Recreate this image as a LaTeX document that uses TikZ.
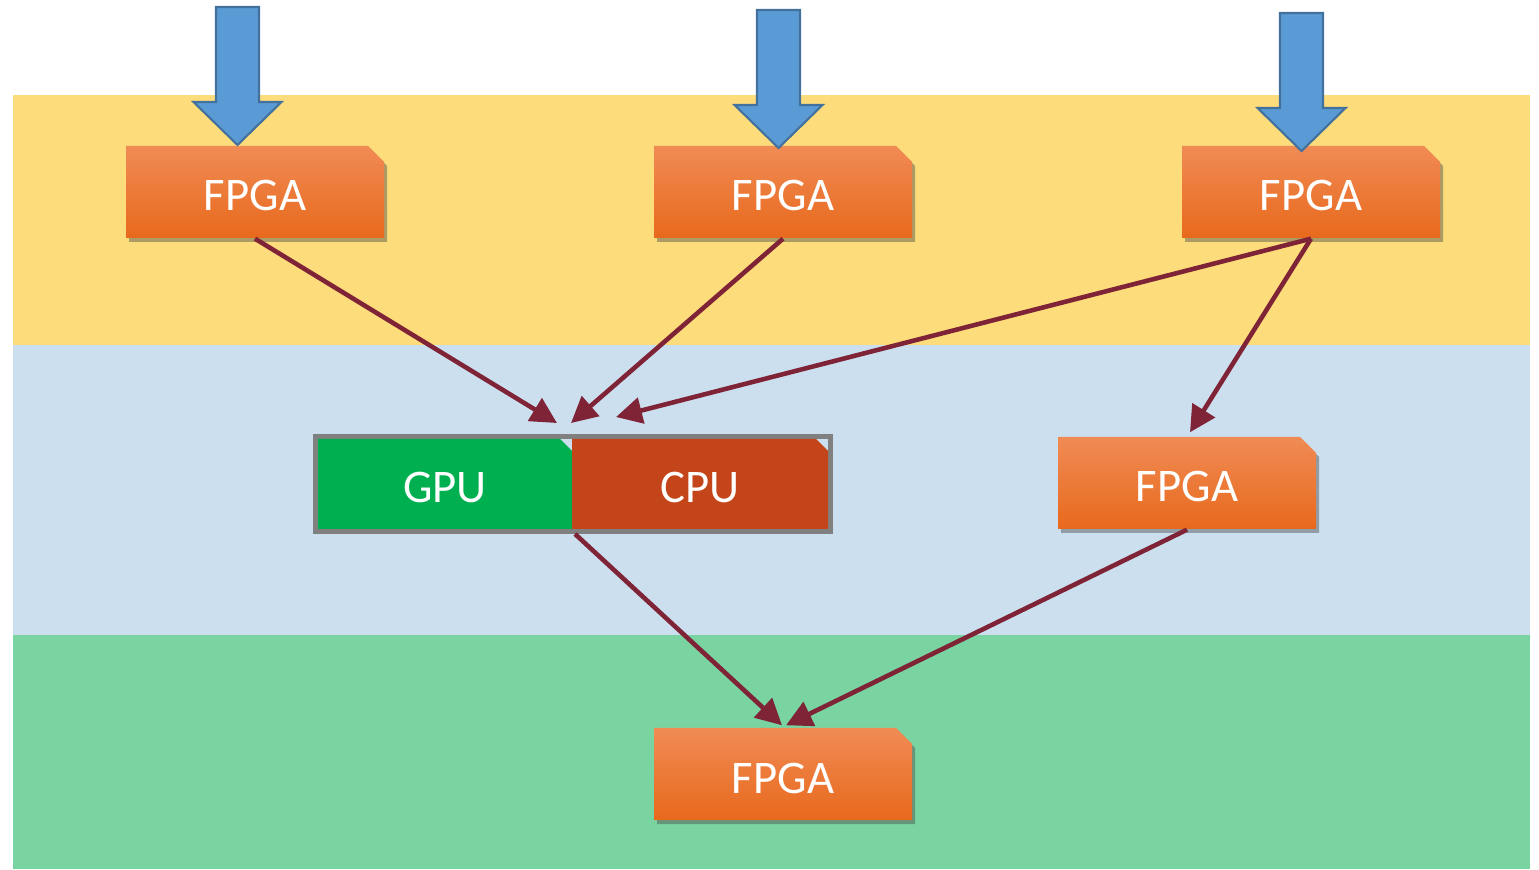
\documentclass[tikz,border=0pt]{standalone}
\usepackage{fontspec}
\setmainfont{Carlito}
\usetikzlibrary{arrows.meta,shapes.misc,shadows}

\definecolor{bandyellow}{HTML}{FDDC7B}
\definecolor{bandblue}{HTML}{CCDFEF}
\definecolor{bandgreen}{HTML}{79D4A2}
\definecolor{linkred}{HTML}{7F2336}
\definecolor{feedblue}{HTML}{5B9BD5}
\definecolor{feededge}{HTML}{41719C}
\definecolor{gpugreen}{HTML}{00B050}
\definecolor{cpured}{HTML}{C5451A}
\definecolor{framegray}{HTML}{808080}
\definecolor{fpgatop}{HTML}{F08B55}
\definecolor{fpgamid}{HTML}{F27C2C}
\definecolor{fpgabot}{HTML}{E8691C}

\tikzset{
  fpga/.style={chamfered rectangle, chamfered rectangle corners=north east,
    chamfered rectangle sep=0.8mm, top color=fpgatop, middle color=fpgamid,
    bottom color=fpgabot, text=white, minimum width=2.58cm, minimum height=0.92cm,
    drop shadow={shadow xshift=0.3mm, shadow yshift=-0.4mm, opacity=0.45, fill=black!70},
    text height=0.38cm, text depth=0cm,
    font=\fontsize{13.3}{16}\selectfont},
  unit/.style={chamfered rectangle, chamfered rectangle corners=north east,
    chamfered rectangle sep=0.6mm, minimum height=0.9cm, inner sep=0pt,
    text height=0.38cm, text depth=0cm,
    text=white, font=\fontsize{13.3}{16}\selectfont},
  link/.style={draw=linkred, line width=1.3pt,
    -{Triangle[length=2.6mm,width=2.6mm]}},
}

\begin{document}
\begin{tikzpicture}
  \useasboundingbox (0,0) rectangle (15.39,8.69);

  % Bands
  \fill[bandyellow] (0.13,5.24) rectangle (15.30,7.74);
  \fill[bandblue] (0.13,2.34) rectangle (15.30,5.24);
  \fill[bandgreen] (0.13,0) rectangle (15.30,2.34);

  % FPGA boxes
  \node[fpga] (fpgaA) at (2.55,6.77) {FPGA};
  \node[fpga] (fpgaB) at (7.83,6.77) {FPGA};
  \node[fpga] (fpgaC) at (13.11,6.77) {FPGA};
  \node[fpga] (fpgaD) at (11.87,3.86) {FPGA};
  \node[fpga] (fpgaE) at (7.83,0.95) {FPGA};

  % GPU + CPU host
  \node[draw=framegray, line width=1.4pt, minimum width=5.15cm, minimum height=0.95cm] (host) at (5.73,3.85) {};
  \node[unit, fill=gpugreen, minimum width=2.54cm] (gpu) at (4.45,3.85) {GPU};
  \node[unit, fill=cpured, minimum width=2.56cm] (cpu) at (7.00,3.85) {CPU};

  % Input arrows
  \foreach \cx/\top in {2.375/8.62, 7.785/8.59, 13.015/8.56}
    \draw[feededge, fill=feedblue, line width=0.6pt]
      (\cx-0.215,\top) -- (\cx+0.215,\top) -- (\cx+0.215,\top-0.95)
      -- (\cx+0.44,\top-0.95) -- (\cx,\top-1.38) -- (\cx-0.44,\top-0.95)
      -- (\cx-0.215,\top-0.95) -- cycle;

  % Links
  \coordinate (inA) at ([xshift=-1.6mm,yshift=1.1mm]host.north);
  \coordinate (inB) at ([xshift=-0.2mm,yshift=1.1mm]host.north);
  \coordinate (inC) at ([xshift=4.3mm,yshift=1.7mm]host.north);
  \draw[link] (fpgaA.south) -- (inA);
  \draw[link] (fpgaB.south) -- (inB);
  \draw[link] (fpgaC.south) -- (inC);
  \draw[link] (fpgaC.south) -- ([xshift=0.3mm,yshift=0.4mm]fpgaD.north);
  \draw[link] ([xshift=0.2mm]host.south) -- ([xshift=-0.1mm,yshift=0.2mm]fpgaE.north);
  \draw[link] (fpgaD.south) -- ([xshift=0.3mm,yshift=0.2mm]fpgaE.north);

\end{tikzpicture}
\end{document}
